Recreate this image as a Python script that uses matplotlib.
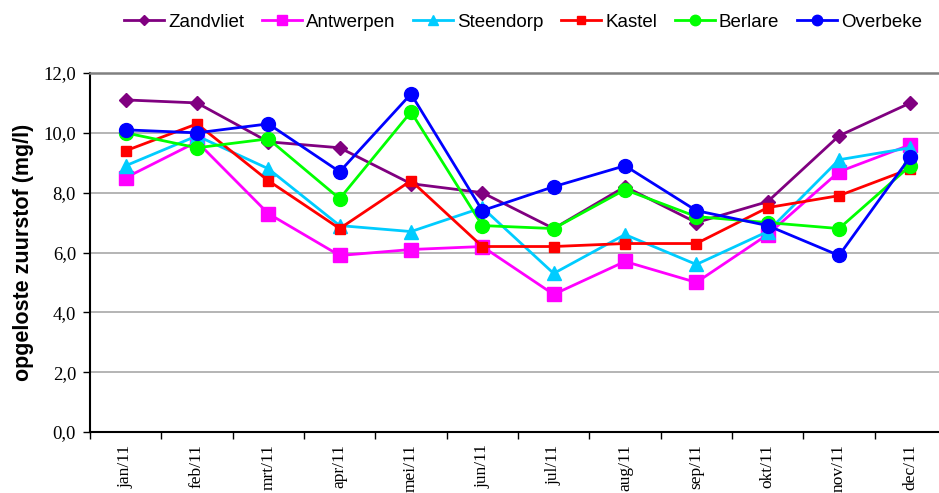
import matplotlib
matplotlib.use("Agg")
import matplotlib.pyplot as plt
from matplotlib.ticker import FixedLocator, FuncFormatter

months = ["jan/11", "feb/11", "mrt/11", "apr/11", "mei/11", "jun/11",
          "jul/11", "aug/11", "sep/11", "okt/11", "nov/11", "dec/11"]

zandvliet = [11.1, 11.0, 9.7, 9.5, 8.3, 8.0, 6.8, 8.2, 7.0, 7.7, 9.9, 11.0]
antwerpen = [8.5, 9.7, 7.3, 5.9, 6.1, 6.2, 4.6, 5.7, 5.0, 6.6, 8.7, 9.6]
steendorp = [8.9, 9.9, 8.8, 6.9, 6.7, 7.5, 5.3, 6.6, 5.6, 6.7, 9.1, 9.5]
kastel = [9.4, 10.3, 8.4, 6.8, 8.4, 6.2, 6.2, 6.3, 6.3, 7.5, 7.9, 8.8]
berlare = [10.0, 9.5, 9.8, 7.8, 10.7, 6.9, 6.8, 8.1, 7.2, 7.0, 6.8, 8.9]
overbeke = [10.1, 10.0, 10.3, 8.7, 11.3, 7.4, 8.2, 8.9, 7.4, 6.9, 5.9, 9.2]

series = [
    ("Zandvliet", zandvliet, "#800080", "D", 7),
    ("Antwerpen", antwerpen, "#ff00ff", "s", 10),
    ("Steendorp", steendorp, "#00ccff", "^", 10),
    ("Kastel", kastel, "#ff0000", "s", 7),
    ("Berlare", berlare, "#00ff00", "o", 10),
    ("Overbeke", overbeke, "#0000ff", "o", 10),
]

fig = plt.figure(figsize=(9.39, 4.93), dpi=100)
ax = fig.add_axes([90 / 939, 1 - 432 / 493, 856 / 939, (432 - 73) / 493])

x = list(range(len(months)))
for name, vals, col, mk, ms in series:
    ax.plot(x, vals, color=col, marker=mk, markersize=ms, linewidth=2,
            label=name, markeredgecolor=col, clip_on=False, zorder=3)

ax.set_xlim(-0.5, len(months) - 0.5)
ax.set_ylim(0, 12)

ax.set_yticks([0, 2, 4, 6, 8, 10, 12])
ax.yaxis.set_major_formatter(FuncFormatter(lambda v, p: f"{v:.1f}".replace(".", ",")))
for v in [2, 4, 6, 8, 10]:
    ax.axhline(v, color="#a8a8a8", linewidth=1.2, zorder=1)

ax.set_xticks(x)
ax.set_xticklabels(months, rotation=90, fontfamily="Liberation Serif", fontsize=12.5)
ax.xaxis.set_minor_locator(FixedLocator([i - 0.5 for i in range(len(months) + 1)]))
ax.tick_params(axis="x", which="major", length=0, pad=9)
ax.tick_params(axis="x", which="minor", length=5, width=1, direction="out")
ax.tick_params(axis="y", length=5, width=1, direction="out", pad=5)
for lab in ax.get_yticklabels():
    lab.set_fontfamily("Liberation Serif")
    lab.set_fontsize(13.5)

ax.spines["left"].set_linewidth(1.5)
ax.spines["bottom"].set_linewidth(1.5)
ax.spines["top"].set_color("#808080")
ax.spines["top"].set_linewidth(1.8)
ax.spines["right"].set_visible(False)

ax.set_ylabel("opgeloste zuurstof (mg/l)", fontfamily="Liberation Sans",
              fontweight="bold", fontsize=15.5, labelpad=7)

fig.legend(loc="center", bbox_to_anchor=(0.557, 0.955), ncol=6, frameon=False,
           prop={"family": "Liberation Sans", "size": 13.5}, handlelength=2.13,
           handletextpad=0.2, columnspacing=0.96, markerscale=0.75)

fig.savefig("out.png", dpi=100)
